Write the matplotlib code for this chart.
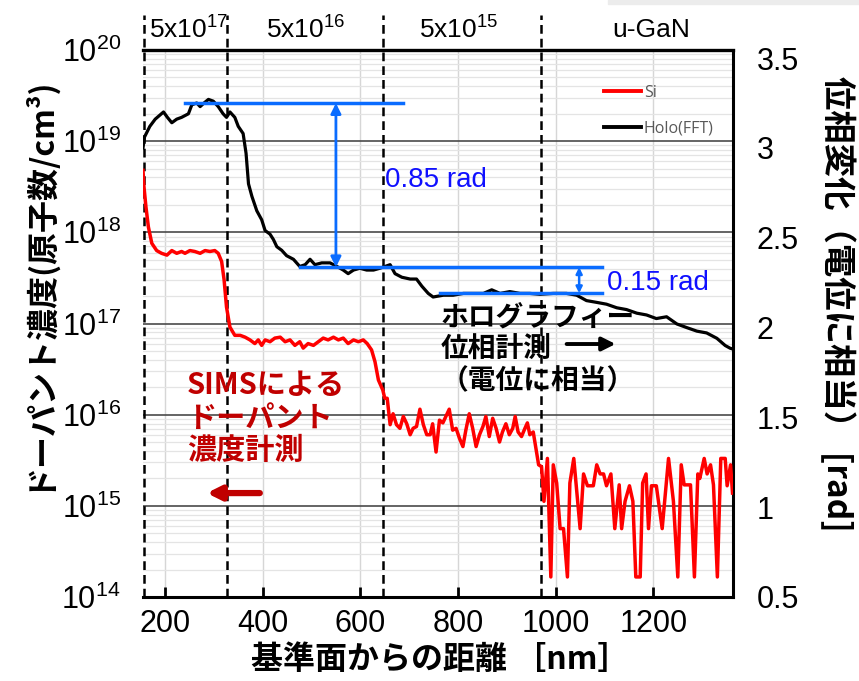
import numpy as np
import matplotlib.pyplot as plt
from matplotlib.ticker import LogLocator, FixedLocator, NullFormatter, FuncFormatter
from matplotlib.patches import Rectangle

plt.rcParams['mathtext.fontset'] = 'custom'
plt.rcParams['mathtext.rm'] = 'Liberation Sans'
plt.rcParams['mathtext.it'] = 'Liberation Sans:italic'
plt.rcParams['mathtext.bf'] = 'Liberation Sans:bold'

JP = ['Noto Sans CJK JP', 'DejaVu Sans']
NUM = 'Liberation Sans'

# SIMS Si profile: depth [nm], log10(concentration / cm^-3)
si_x = [155, 157, 161, 166, 173, 183, 193, 204, 214, 224, 234, 241, 251, 261, 272, 282,
        292, 302, 309, 316, 321, 326, 333, 343, 354, 364, 374, 384, 391, 398, 405, 415,
        425, 436, 446, 456, 466, 476, 483, 493, 504, 514, 524, 534, 545, 555, 565, 575,
        586, 596, 606, 614, 623, 630, 637, 646, 650, 655, 661, 667, 674, 681, 688, 695,
        702, 708, 715, 722, 729, 736, 743, 748, 755, 762, 769, 775, 782, 789, 796, 803,
        810, 816, 823, 830, 837, 844, 851, 857, 864, 871, 878, 885, 891, 898, 905, 912,
        917, 923, 930, 937, 942, 947, 954, 960, 965, 971, 976, 983, 990, 995, 1002, 1009,
        1016, 1024, 1029, 1037, 1050, 1057, 1065, 1077, 1084, 1091, 1098, 1104, 1113, 1121,
        1130, 1135, 1142, 1151, 1158, 1164, 1173, 1178, 1185, 1190, 1196, 1206, 1218, 1231,
        1241, 1250, 1257, 1263, 1276, 1284, 1291, 1295, 1304, 1310, 1317, 1323, 1331, 1338,
        1347, 1351, 1358, 1362]
si_log = [18.68, 18.50, 18.28, 18.06, 17.88, 17.80, 17.77, 17.75, 17.80, 17.77, 17.79, 17.77,
          17.80, 17.79, 17.77, 17.80, 17.79, 17.80, 17.77, 17.68, 17.48, 17.18, 16.96, 16.87,
          16.87, 16.85, 16.82, 16.78, 16.82, 16.76, 16.82, 16.80, 16.84, 16.85, 16.80, 16.82,
          16.76, 16.80, 16.73, 16.78, 16.76, 16.80, 16.84, 16.82, 16.85, 16.82, 16.84, 16.78,
          16.82, 16.80, 16.82, 16.78, 16.71, 16.58, 16.38, 16.27, 16.18, 16.18, 15.89, 16.01,
          15.89, 15.85, 15.98, 15.90, 15.78, 15.85, 15.87, 16.06, 15.89, 15.78, 15.78, 15.90,
          15.59, 15.94, 15.91, 15.98, 16.06, 15.83, 15.85, 15.74, 15.65, 15.83, 16.01, 15.85,
          15.65, 15.78, 15.87, 15.98, 15.76, 15.96, 15.85, 15.70, 15.81, 15.90, 15.78, 15.85,
          15.98, 15.81, 15.76, 15.85, 15.91, 15.78, 15.81, 15.61, 15.45, 15.43, 15.05, 15.52,
          14.22, 15.45, 15.25, 14.75, 14.75, 14.22, 15.25, 15.52, 14.75, 15.35, 15.22, 15.22,
          15.45, 15.35, 15.35, 15.22, 15.35, 14.75, 15.23, 14.75, 15.05, 15.22, 15.05, 14.22,
          14.22, 15.25, 15.35, 14.75, 15.22, 15.22, 14.75, 15.52, 15.05, 14.22, 15.45, 15.23,
          15.23, 14.22, 15.35, 15.30, 15.52, 15.35, 15.45, 15.23, 14.22, 15.52, 15.52, 15.22,
          15.45, 15.14]

# holography phase profile: depth [nm], phase [rad]
holo_x = [155, 158, 169, 180, 197, 205, 214, 224, 234, 248, 255, 265, 272, 280, 289, 299,
          309, 319, 326, 333, 343, 350, 360, 366, 371, 378, 388, 398, 405, 415, 422, 429,
          439, 449, 463, 476, 487, 497, 507, 521, 538, 552, 565, 575, 586, 599, 613, 627,
          640, 661, 671, 685, 702, 715, 726, 739, 749, 770, 790, 811, 831, 852, 869, 886,
          906, 927, 947, 968, 995, 1022, 1043, 1063, 1084, 1104, 1125, 1145, 1166, 1186,
          1206, 1227, 1248, 1268, 1289, 1309, 1330, 1347, 1357, 1363]
holo_phase = [3.00, 3.06, 3.12, 3.16, 3.20, 3.17, 3.14, 3.16, 3.17, 3.19, 3.24, 3.25, 3.23,
              3.25, 3.27, 3.26, 3.23, 3.19, 3.17, 3.20, 3.17, 3.12, 3.08, 2.97, 2.80, 2.73,
              2.65, 2.60, 2.54, 2.52, 2.49, 2.45, 2.43, 2.40, 2.38, 2.34, 2.35, 2.38, 2.35,
              2.36, 2.36, 2.34, 2.32, 2.30, 2.32, 2.33, 2.32, 2.32, 2.33, 2.35, 2.30, 2.28,
              2.27, 2.27, 2.23, 2.19, 2.17, 2.18, 2.18, 2.19, 2.19, 2.19, 2.21, 2.19, 2.20,
              2.19, 2.19, 2.185, 2.19, 2.19, 2.18, 2.15, 2.14, 2.13, 2.11, 2.10, 2.08, 2.07,
              2.05, 2.06, 2.02, 2.00, 1.98, 1.97, 1.94, 1.90, 1.885, 1.88]

layer_edges = [158, 328, 646, 970]
layer_centers = [249, 487, 802, 1195]
layer_names = ['5x$\\mathregular{10^{17}}$', '5x$\\mathregular{10^{16}}$',
               '5x$\\mathregular{10^{15}}$', 'u-GaN']

# phase steps marked in blue: (level, x start, x end)
step_levels = [3.249, 2.336, 2.191]
step_starts = [242, 476, 764]
step_ends = [688, 1095, 1095]

x_ticks = [200, 400, 600, 800, 1000, 1200]
phase_ticks = [0.5, 1, 1.5, 2, 2.5, 3, 3.5]
phase_labels = ['0.5', '1', '1.5', '2', '2.5', '3', '3.5']

fig = plt.figure(figsize=(8.59, 6.81), dpi=100)
ax = fig.add_axes([143 / 859, 84 / 681, 590 / 859, 547 / 681])
ax.set_xlim(155, 1363)
ax.set_yscale('log')
ax.set_ylim(1e14, 1e20)

# grid
ax.yaxis.set_major_locator(LogLocator(base=10, numticks=10))
ax.yaxis.set_minor_locator(LogLocator(base=10, subs=np.arange(2, 10), numticks=20))
ax.yaxis.set_minor_formatter(NullFormatter())
ax.grid(True, which='minor', axis='y', color='#e4e4e4', lw=0.9, zorder=0)
ax.grid(True, which='major', axis='y', color='#4a4a4a', lw=1.2, zorder=0)
ax.xaxis.set_major_locator(FixedLocator(x_ticks))
ax.grid(True, which='major', axis='x', color='#d6d6d6', lw=1.0, zorder=0)
ax.set_axisbelow(True)

ax.yaxis.set_major_formatter(FuncFormatter(lambda v, p: '$\\mathregular{10^{%d}}$' % round(np.log10(v))))
ax.tick_params(axis='y', which='both', length=0, labelsize=22, pad=16)
ax.tick_params(axis='x', direction='in', length=7, width=2, labelsize=22, pad=9)
for lab in ax.get_xticklabels() + ax.get_yticklabels():
    lab.set_family(NUM)

ax.spines['left'].set_visible(False)
ax.spines['top'].set_linewidth(2.4)
ax.spines['bottom'].set_linewidth(2.2)
ax.spines['right'].set_linewidth(2.2)
ax.spines['right'].set_linestyle((0, (4, 1)))

# layer boundaries
for xe in layer_edges:
    ax.axvline(xe, ymin=0, ymax=1.064, color='black', lw=1.8, ls=(0, (3.5, 2)), clip_on=False, zorder=1)
for xc, name in zip(layer_centers, layer_names):
    ax.text(xc, 1.037, name, transform=ax.get_xaxis_transform(), ha='center', va='center',
            fontsize=19, family=NUM)

ax.plot(si_x, 10 ** np.array(si_log), color='#ff0000', lw=2.5, zorder=3)

ax2 = ax.twinx()
ax2.set_ylim(0.5, 3.545)
ax2.yaxis.set_major_locator(FixedLocator(phase_ticks))
ax2.set_yticklabels(phase_labels)
ax2.tick_params(axis='y', length=0, labelsize=22, pad=17)
for lab in ax2.get_yticklabels():
    lab.set_family(NUM)
for s in ax2.spines.values():
    s.set_visible(False)

ax2.plot(holo_x, holo_phase, color='black', lw=2.3, zorder=3)

blue = '#0a6cff'
for lv, xs, xe in zip(step_levels, step_starts, step_ends):
    ax2.plot([xs, xe], [lv, lv], color=blue, lw=2.5, zorder=4)
ax2.annotate('', xy=(550, step_levels[0]), xytext=(550, step_levels[1]),
             arrowprops=dict(arrowstyle='<|-|>', color=blue, lw=2, mutation_scale=15, shrinkA=0, shrinkB=0))
ax2.annotate('', xy=(1048, step_levels[1]), xytext=(1048, step_levels[2]),
             arrowprops=dict(arrowstyle='<|-|>', color=blue, lw=1.8, mutation_scale=9, shrinkA=0, shrinkB=0))
ax2.text(0.41, 0.762, '0.85 rad', transform=ax2.transAxes, color='#1010ff', fontsize=20,
         family=NUM, va='center', ha='left')
ax2.text(0.786, 0.574, '0.15 rad', transform=ax2.transAxes, color='#1010ff', fontsize=20,
         family=NUM, va='center', ha='left')

# legend
ax2.plot([], [], color='#ff0000', lw=2.8, label='Si')
ax2.plot([], [], color='black', lw=2.8, label='Holo(FFT)')
leg = ax2.legend(loc='upper left', bbox_to_anchor=(0.781, 0.936), frameon=False,
                 handlelength=2.3, handletextpad=0.2, labelspacing=1.25, borderpad=0, borderaxespad=0,
                 prop={'family': 'Open Sans', 'size': 11.5})
for t in leg.get_texts():
    t.set_color('#595959')

# annotations
holo_lines = ['ホログラフィー', '位相計測', '（電位に相当）']
for txt, yy in zip(holo_lines, [318, 349, 381]):
    ax2.text(0.505, (597 - yy) / 547, txt, transform=ax2.transAxes, fontsize=20, fontweight='bold',
             family=JP, va='center', ha='left', color='black')
ax2.annotate('', xy=(0.801, 0.4625), xytext=(0.718, 0.4625), xycoords='axes fraction',
             arrowprops=dict(arrowstyle='-|>', color='black', lw=2.8, mutation_scale=20, shrinkA=0, shrinkB=0))

sims_lines = ['SIMSによる', 'ドーパント', '濃度計測']
for txt, yy in zip(sims_lines, [385, 418, 450]):
    ax2.text(0.0746, (597 - yy) / 547, txt, transform=ax2.transAxes, fontsize=21, fontweight='bold',
             family=JP, va='center', ha='left', color='#c00000')
ax2.annotate('', xy=(0.108, 0.190), xytext=(0.198, 0.190), xycoords='axes fraction',
             arrowprops=dict(arrowstyle='-|>', color='#c00000', lw=4.5, mutation_scale=20, shrinkA=0, shrinkB=0))

# axis titles
fig.text(36 / 859, 1 - 282 / 681, 'ドーパント濃度(原子数/cm³)', rotation=90, ha='center', va='center',
         fontsize=23, fontweight='bold', family=JP)
fig.text(838 / 859, 1 - 304 / 681, '位相変化（電位に相当） [rad]', rotation=-90, ha='center', va='center',
         fontsize=24, fontweight='bold', family=JP)
fig.text(440 / 859, 1 - 660 / 681, '基準面からの距離 ［nm］', ha='center', va='center',
         fontsize=23, fontweight='bold', family=JP)

fig.patches.append(Rectangle((608 / 859, 1 - 4 / 681), 251 / 859, 4 / 681, transform=fig.transFigure,
                             color='#ececec', zorder=0))

fig.savefig('out.png', dpi=100)
